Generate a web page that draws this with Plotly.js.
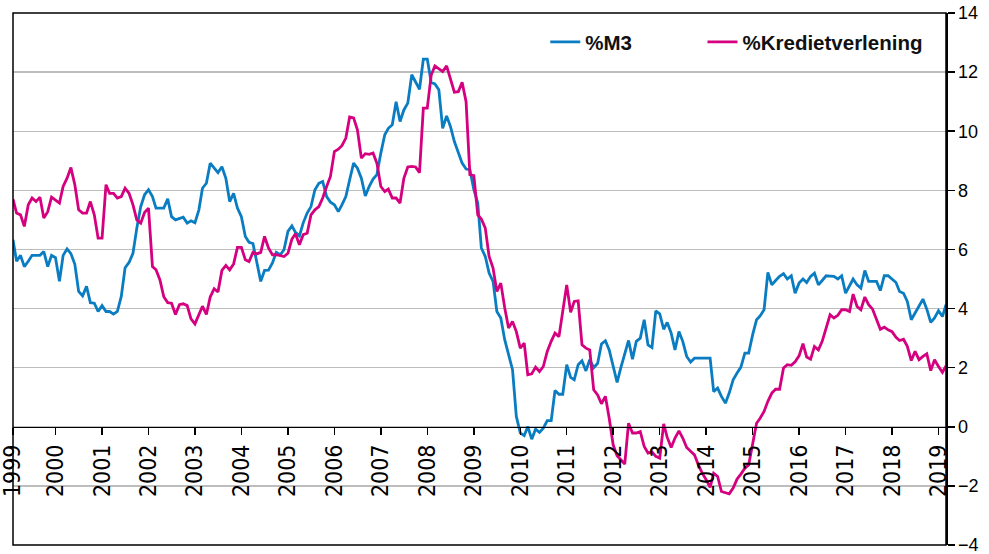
<!DOCTYPE html>
<html><head><meta charset="utf-8">
<script src="https://cdn.plot.ly/plotly-3.0.1.min.js"></script>
<style>html,body{margin:0;padding:0;background:#fff}#chart{width:989px;height:554px}</style>
</head><body><div id="chart"></div>
<script>
// Monthly observations, first month of the series
const firstYear = 1999;
const firstMonth = 2;

const m3 = [
 6.33, 5.6, 5.8, 5.42, 5.6, 5.8, 5.8, 5.8, 5.93, 5.42,
 5.8, 5.72, 4.92, 5.8, 6.02, 5.86, 5.5, 4.58, 4.43, 4.75,
 4.2, 4.18, 3.9, 4.1, 3.9, 3.9, 3.81, 3.9, 4.41, 5.38,
 5.56, 5.87, 6.72, 7.45, 7.85, 8.02, 7.79, 7.4, 7.4, 7.4,
 7.71, 7.11, 7.0, 7.05, 7.09, 6.89, 6.97, 6.9, 7.34, 8.07,
 8.24, 8.92, 8.75, 8.6, 8.8, 8.41, 7.62, 7.9, 7.4, 7.11,
 6.44, 6.24, 6.2, 5.54, 4.92, 5.29, 5.3, 5.54, 5.9, 5.82,
 5.99, 6.61, 6.8, 6.58, 6.46, 6.9, 7.23, 7.45, 8.02, 8.24,
 8.3, 7.79, 7.6, 7.51, 7.28, 7.51, 7.79, 8.36, 8.92, 8.75,
 8.41, 7.81, 8.13, 8.38, 8.53, 9.26, 9.88, 10.1, 10.22, 11.0,
 10.33, 10.72, 10.95, 11.91, 11.68, 11.42, 12.44, 12.44, 11.65, 11.6,
 11.4, 10.1, 10.52, 10.16, 9.65, 9.26, 8.92, 8.72, 8.7, 8.02,
 7.57, 6.05, 5.76, 5.2, 4.92, 3.9, 3.68, 2.94, 2.44, 1.93,
 0.35, -0.21, -0.3, 0.01, -0.42, -0.08, -0.19, -0.05, 0.21, 0.21,
 1.23, 1.1, 1.1, 2.1, 1.67, 1.59, 2.1, 2.23, 1.89, 2.27,
 2.0, 2.15, 2.8, 2.91, 2.6, 2.06, 1.5, 1.99, 2.44, 2.92,
 2.29, 2.89, 3.0, 3.62, 2.77, 2.68, 3.92, 3.82, 3.3, 3.53,
 3.17, 2.6, 3.22, 2.89, 2.38, 2.19, 2.32, 2.32, 2.32, 2.32,
 2.32, 1.19, 1.31, 1.03, 0.8, 1.14, 1.59, 1.82, 2.02, 2.49,
 2.49, 3.11, 3.62, 3.75, 3.96, 5.22, 4.8, 4.95, 5.09, 5.18,
 5.0, 5.11, 4.52, 4.86, 5.0, 4.88, 5.09, 5.2, 4.8, 4.95,
 5.11, 5.1, 5.09, 5.0, 5.11, 4.52, 4.75, 5.0, 4.8, 4.69,
 5.29, 4.92, 4.92, 4.92, 4.61, 5.11, 5.11, 5.0, 4.88, 4.58,
 4.52, 4.24, 3.62, 3.85, 4.09, 4.32, 3.98, 3.53, 3.68, 3.93,
 3.73, 4.13
];

const krediet = [
 7.7, 7.23, 7.17, 6.78, 7.51, 7.74, 7.62, 7.77, 7.06, 7.28,
 7.77, 7.66, 7.57, 8.13, 8.41, 8.77, 8.19, 7.34, 7.23, 7.23,
 7.62, 7.17, 6.38, 6.38, 8.19, 7.9, 7.9, 7.74, 7.79, 8.07,
 7.9, 7.51, 7.0, 6.89, 7.25, 7.4, 5.42, 5.31, 4.97, 4.4,
 4.2, 4.18, 3.8, 4.13, 4.16, 4.1, 3.65, 3.48, 3.77, 4.08,
 3.8, 4.39, 4.67, 4.56, 5.29, 5.46, 5.31, 5.51, 6.07, 6.07,
 5.65, 5.59, 5.9, 5.85, 5.9, 6.44, 6.05, 5.82, 5.82, 5.8,
 5.76, 5.87, 6.35, 6.53, 6.16, 6.5, 6.55, 7.17, 7.34, 7.45,
 7.74, 8.13, 8.47, 9.31, 9.39, 9.51, 9.77, 10.48, 10.45, 10.05,
 9.09, 9.24, 9.22, 9.26, 8.92, 8.13, 7.96, 8.04, 7.74, 7.74,
 7.57, 8.41, 8.79, 8.81, 8.79, 8.6, 10.78, 10.78, 11.9, 12.21,
 12.1, 12.02, 12.21, 11.76, 11.32, 11.34, 11.66, 11.0, 8.53, 8.5,
 7.17, 7.03, 6.72, 5.76, 5.37, 4.58, 4.86, 4.02, 3.34, 3.56,
 3.22, 2.66, 2.83, 1.76, 1.79, 2.02, 1.87, 2.04, 2.55, 2.89,
 3.17, 3.05, 3.98, 4.8, 3.87, 4.24, 4.26, 2.77, 2.66, 2.6,
 1.25, 1.08, 0.78, 1.03, 0.29, -0.61, -0.98, -1.12, -1.26, 0.12,
 -0.21, -0.21, -0.16, -0.67, -0.89, -0.85, -1.0, -1.06, 0.1, -0.36,
 -0.7, -0.38, -0.14, -0.38, -0.7, -0.83, -0.95, -1.29, -1.57, -1.79,
 -2.05, -1.57, -1.68, -2.19, -2.24, -2.27, -2.07, -1.77, -1.6, -1.4,
 -1.29, -0.61, 0.12, 0.29, 0.52, 0.86, 1.14, 1.27, 1.27, 1.99,
 2.1, 2.08, 2.2, 2.4, 2.81, 2.36, 2.29, 2.72, 2.6, 2.89,
 3.34, 3.79, 3.68, 3.77, 3.96, 3.96, 3.9, 4.49, 4.07, 3.96,
 4.39, 4.13, 3.98, 3.62, 3.3, 3.37, 3.28, 3.22, 3.03, 2.92,
 2.96, 2.72, 2.24, 2.55, 2.27, 2.38, 2.47, 1.9, 2.27, 2.04,
 1.84, 2.06
];

const yearLabels = ['1999','2000','2001','2002','2003','2004','2005','2006','2007','2008',
 '2009','2010','2011','2012','2013','2014','2015','2016','2017','2018','2019'];
const yTickVals = [-4, -2, 0, 2, 4, 6, 8, 10, 12, 14];

const seriesNames = ['%M3', '%Kredietverlening'];
const seriesColors = ['#0a7dc2', '#d5007f'];

function pad(n){ return (n < 10 ? '0' : '') + n; }
const dates = m3.map(function(_, i){
  const t = (firstMonth - 1) + i;
  const y = firstYear + Math.floor(t / 12);
  const mo = (t % 12) + 1;
  return y + '-' + pad(mo) + '-01';
});
const xTickVals = yearLabels.map(function(y, i){ return i === 0 ? dates[0] : y + '-01-01'; });

const traces = [
  {x: dates, y: m3, name: seriesNames[0], type: 'scatter', mode: 'lines', legend: 'legend',
   line: {color: seriesColors[0], width: 2.8}, hoverinfo: 'x+y'},
  {x: dates, y: krediet, name: seriesNames[1], type: 'scatter', mode: 'lines', legend: 'legend2',
   line: {color: seriesColors[1], width: 2.8}, hoverinfo: 'x+y'}
];

const legendFont = {family: 'Liberation Sans, Arial, sans-serif', size: 20.5, weight: 'bold', color: '#111'};

const layout = {
  width: 989, height: 554,
  margin: {l: 13, r: 43, t: 13, b: 9},
  paper_bgcolor: '#ffffff', plot_bgcolor: '#ffffff',
  showlegend: true,
  legend: {
    orientation: 'h', x: 0.5705, y: 0.983, xanchor: 'left', yanchor: 'top',
    font: legendFont, bgcolor: 'rgba(0,0,0,0)', borderwidth: 0
  },
  legend2: {
    orientation: 'h', x: 0.739, y: 0.983, xanchor: 'left', yanchor: 'top',
    font: legendFont, bgcolor: 'rgba(0,0,0,0)', borderwidth: 0
  },
  xaxis: {
    type: 'date', range: [dates[0], dates[dates.length - 1]],
    anchor: 'free', position: 4 / 18,
    showgrid: false, zeroline: false,
    showline: true, linecolor: '#000', linewidth: 1.5,
    ticks: 'outside', ticklen: 7, tickwidth: 1.5, tickcolor: '#000',
    tickmode: 'array', tickvals: xTickVals, ticktext: yearLabels, tickangle: -90,
    ticklabeloverflow: 'allow',
    tickfont: {family: 'Liberation Sans Narrow, DejaVu Sans Condensed, Liberation Sans, sans-serif', size: 23, color: '#000'}
  },
  yaxis: {
    range: [-4, 14], side: 'right',
    tickmode: 'array', tickvals: yTickVals,
    showgrid: true, gridcolor: '#bdbdbd', gridwidth: 1.3,
    zeroline: false, showline: true, linecolor: '#000', linewidth: 1.5,
    ticks: 'outside', ticklen: 7, tickwidth: 1.5, tickcolor: '#000',
    ticklabeloverflow: 'allow',
    tickfont: {family: 'Liberation Sans, Arial, sans-serif', size: 18, color: '#000'}
  },
  shapes: [{type: 'rect', xref: 'paper', yref: 'paper', x0: 0, x1: 1, y0: 0, y1: 1,
            line: {color: '#000', width: 1.5}, layer: 'above'}]
};

Plotly.newPlot('chart', traces, layout, {displayModeBar: false, staticPlot: true});
</script>
</body></html>
